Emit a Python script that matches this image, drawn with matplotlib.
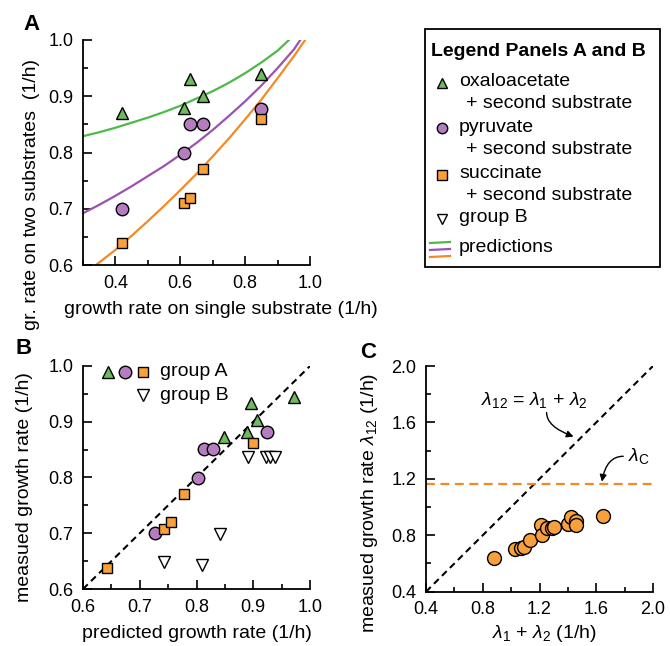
import matplotlib
matplotlib.use('Agg')
import matplotlib.pyplot as plt
from matplotlib.ticker import MultipleLocator

plt.rcParams['font.family'] = ['Liberation Sans', 'DejaVu Sans']
plt.rcParams['mathtext.fontset'] = 'custom'
plt.rcParams['mathtext.rm'] = 'Liberation Sans'
plt.rcParams['mathtext.it'] = 'Liberation Sans:italic'

# ---- panel A: measured points (x = growth rate on single substrate)
a_x = [0.42, 0.61, 0.63, 0.67, 0.85]
a_oxa = [0.87, 0.88, 0.93, 0.90, 0.94]
a_pyr = [0.70, 0.80, 0.85, 0.85, 0.877]
a_suc = [0.64, 0.71, 0.72, 0.77, 0.86]

# prediction curves
pred_oxa_x = [0.30, 0.35, 0.40, 0.45, 0.50, 0.55, 0.60, 0.65, 0.70, 0.75, 0.80, 0.85, 0.90, 0.935]
pred_oxa_y = [0.829, 0.836, 0.844, 0.853, 0.862, 0.872, 0.883, 0.896, 0.909, 0.924, 0.941, 0.960, 0.981, 1.0]
pred_pyr_x = [0.30, 0.35, 0.40, 0.45, 0.50, 0.55, 0.60, 0.65, 0.70, 0.75, 0.80, 0.85, 0.90, 0.95, 0.97]
pred_pyr_y = [0.692, 0.707, 0.723, 0.740, 0.758, 0.776, 0.796, 0.817, 0.840, 0.865, 0.891, 0.919, 0.950, 0.983, 1.0]
pred_suc_x = [0.34, 0.40, 0.45, 0.50, 0.55, 0.60, 0.65, 0.70, 0.75, 0.80, 0.85, 0.90, 0.95, 0.985]
pred_suc_y = [0.600, 0.627, 0.652, 0.678, 0.705, 0.733, 0.762, 0.793, 0.825, 0.859, 0.894, 0.932, 0.971, 1.0]

# ---- panel B: predicted vs measured
b_oxa_x = [0.849, 0.889, 0.896, 0.906, 0.971]
b_oxa_y = [0.873, 0.882, 0.934, 0.903, 0.945]
b_pyr_x = [0.727, 0.802, 0.813, 0.829, 0.925]
b_pyr_y = [0.700, 0.800, 0.851, 0.851, 0.881]
b_suc_x = [0.643, 0.743, 0.755, 0.778, 0.900]
b_suc_y = [0.638, 0.708, 0.720, 0.770, 0.861]
b_grpB_x = [0.742, 0.809, 0.842, 0.890, 0.922, 0.930, 0.939]
b_grpB_y = [0.648, 0.643, 0.698, 0.837, 0.837, 0.837, 0.837]

# ---- panel C: lambda1 + lambda2 vs lambda12
c_sum = [0.88, 1.03, 1.07, 1.09, 1.13, 1.21, 1.22, 1.25, 1.29, 1.30, 1.40, 1.42, 1.46, 1.46, 1.65]
c_meas = [0.64, 0.70, 0.71, 0.72, 0.77, 0.87, 0.80, 0.85, 0.85, 0.86, 0.88, 0.93, 0.90, 0.87, 0.94]
lambda_c = 1.16

G_FILL, G_LINE = '#6dbb5e', '#4fb848'
P_FILL, P_LINE = '#b57cc0', '#9b52b0'
O_FILL, O_LINE = '#f7a03c', '#f58a24'

W, H = 670, 646
fig = plt.figure(figsize=(6.7, 6.46), dpi=100)


def px_axes(l, t, r, b):
    return fig.add_axes([l / W, 1 - b / H, (r - l) / W, (b - t) / H])


def style(ax, xmaj, xmin, ymaj, ymin):
    for s in ['top', 'right']:
        ax.spines[s].set_visible(False)
    for s in ['left', 'bottom']:
        ax.spines[s].set_linewidth(1.3)
    ax.xaxis.set_major_locator(MultipleLocator(xmaj))
    ax.xaxis.set_minor_locator(MultipleLocator(xmin))
    ax.yaxis.set_major_locator(MultipleLocator(ymaj))
    ax.yaxis.set_minor_locator(MultipleLocator(ymin))
    ax.tick_params(which='both', direction='in', width=1.2, labelsize=13, pad=7)
    ax.tick_params(which='major', length=6.5)
    ax.tick_params(which='minor', length=3.5)


mk = dict(markeredgecolor='black', markeredgewidth=1.0, linestyle='none')

# panel A
axA = px_axes(83, 40, 310, 265)
axA.plot(pred_oxa_x, pred_oxa_y, color=G_LINE, lw=1.6)
axA.plot(pred_pyr_x, pred_pyr_y, color=P_LINE, lw=1.6)
axA.plot(pred_suc_x, pred_suc_y, color=O_LINE, lw=1.6)
axA.plot(a_x, a_oxa, marker='^', ms=8, markerfacecolor=G_FILL, **mk)
axA.plot(a_x, a_pyr, marker='o', ms=9, markerfacecolor=P_FILL, **mk)
axA.plot(a_x, a_suc, marker='s', ms=7.5, markerfacecolor=O_FILL, **mk)
axA.set_xlim(0.3, 1.0)
axA.set_ylim(0.6, 1.0)
style(axA, 0.2, 0.1, 0.1, 0.05)
axA.set_xticks([0.4, 0.6, 0.8, 1.0])
axA.set_xticklabels(['0.4', '0.6', '0.8', '1.0'])

# panel B
axB = px_axes(83, 366, 310, 589)
axB.plot([0.6, 1.0], [0.6, 1.0], color='black', lw=1.5, dashes=(3.2, 2.2))
axB.plot(b_oxa_x, b_oxa_y, marker='^', ms=8, markerfacecolor=G_FILL, **mk)
axB.plot(b_pyr_x, b_pyr_y, marker='o', ms=9, markerfacecolor=P_FILL, **mk)
axB.plot(b_suc_x, b_suc_y, marker='s', ms=7.5, markerfacecolor=O_FILL, **mk)
axB.plot(b_grpB_x, b_grpB_y, marker='v', ms=8.5, markerfacecolor='white', **mk)
axB.set_xlim(0.6, 1.0)
axB.set_ylim(0.6, 1.0)
style(axB, 0.1, 0.05, 0.1, 0.05)

# panel C
axC = px_axes(426, 366, 653, 591.7)
axC.plot([0.4, 2.0], [0.4, 2.0], color='black', lw=1.5, dashes=(3.2, 2.2))
axC.axhline(lambda_c, color=O_LINE, lw=1.6, dashes=(4, 2.5))
axC.plot(c_sum, c_meas, marker='o', ms=10, markerfacecolor=O_FILL, **mk)
axC.set_xlim(0.4, 2.0)
axC.set_ylim(0.4, 2.0)
style(axC, 0.4, 0.2, 0.4, 0.2)
axC.annotate('', xy=(1.44, 1.50), xytext=(1.25, 1.67),
             arrowprops=dict(arrowstyle='-|>', color='black', lw=1.0,
                             mutation_scale=10, shrinkA=0, shrinkB=0,
                             connectionstyle='angle3,angleA=-90,angleB=-20'))
axC.annotate('', xy=(1.64, 1.18), xytext=(1.79, 1.36),
             arrowprops=dict(arrowstyle='-|>', color='black', lw=1.0,
                             mutation_scale=10, shrinkA=0, shrinkB=0,
                             connectionstyle='angle3,angleA=180,angleB=-100'))

# overlay in pixel coordinates for labels and legend
ov = fig.add_axes([0, 0, 1, 1], zorder=10)
ov.set_xlim(0, W)
ov.set_ylim(H, 0)
ov.axis('off')

FS = 14
ov.text(32, 25, 'A', fontsize=16, fontweight='bold', ha='center', va='center')
ov.text(24, 348, 'B', fontsize=16, fontweight='bold', ha='center', va='center')
ov.text(368, 353, 'C', fontsize=16, fontweight='bold', ha='center', va='center')

ov.text(221, 310, 'growth rate on single substrate (1/h)', fontsize=FS, ha='center', va='center')
ov.text(32, 194, 'gr. rate on two substrates  (1/h)', fontsize=FS, rotation=90, ha='center', va='center')
ov.text(197, 634, 'predicted growth rate (1/h)', fontsize=FS, ha='center', va='center')
ov.text(25, 487, 'measued growth rate (1/h)', fontsize=FS, rotation=90, ha='center', va='center')
ov.text(544, 634, r'$\lambda_1$ + $\lambda_2$ (1/h)', fontsize=FS, ha='center', va='center')
ov.text(370, 503, r'measued growth rate $\lambda_{12}$ (1/h)', fontsize=FS, rotation=90, ha='center', va='center')
ov.text(534, 400, r'$\lambda_{12}$ = $\lambda_1$ + $\lambda_2$', fontsize=FS, ha='center', va='center')
ov.text(639, 456, r'$\lambda_\mathrm{C}$', fontsize=FS, ha='center', va='center')

# panel B inline legend
ov.plot([108], [372], marker='^', ms=8, markerfacecolor=G_FILL, **mk)
ov.plot([125], [372], marker='o', ms=9, markerfacecolor=P_FILL, **mk)
ov.plot([143], [372], marker='s', ms=7.5, markerfacecolor=O_FILL, **mk)
ov.plot([143], [395], marker='v', ms=8.5, markerfacecolor='white', **mk)
ov.text(160, 372, 'group A', fontsize=FS, ha='left', va='center')
ov.text(160, 395, 'group B', fontsize=FS, ha='left', va='center')

# legend box for panels A and B
ov.add_patch(plt.Rectangle((425, 29), 235, 238, fill=False, edgecolor='black', lw=1.3))
ov.text(431, 52, 'Legend Panels A and B', fontsize=FS, fontweight='bold', ha='left', va='center')
ov.plot([442], [83], marker='^', ms=7, markerfacecolor=G_FILL, **mk)
ov.plot([442], [128], marker='o', ms=7.5, markerfacecolor=P_FILL, **mk)
ov.plot([442], [175], marker='s', ms=6.5, markerfacecolor=O_FILL, **mk)
ov.plot([442], [219], marker='v', ms=7, markerfacecolor='white', **mk)
ov.text(459, 82, 'oxaloacetate', fontsize=FS, ha='left', va='center')
ov.text(466, 103, '+ second substrate', fontsize=FS, ha='left', va='center')
ov.text(459, 128, 'pyruvate', fontsize=FS, ha='left', va='center')
ov.text(466, 149, '+ second substrate', fontsize=FS, ha='left', va='center')
ov.text(459, 174, 'succinate', fontsize=FS, ha='left', va='center')
ov.text(466, 196, '+ second substrate', fontsize=FS, ha='left', va='center')
ov.text(459, 218, 'group B', fontsize=FS, ha='left', va='center')
ov.plot([430, 450], [243, 242], color=G_LINE, lw=1.6)
ov.plot([430, 450], [250, 249], color=P_LINE, lw=1.6)
ov.plot([430, 450], [257, 256], color=O_LINE, lw=1.6)
ov.text(459, 248, 'predictions', fontsize=FS, ha='left', va='center')

fig.savefig('out.png', dpi=100)
